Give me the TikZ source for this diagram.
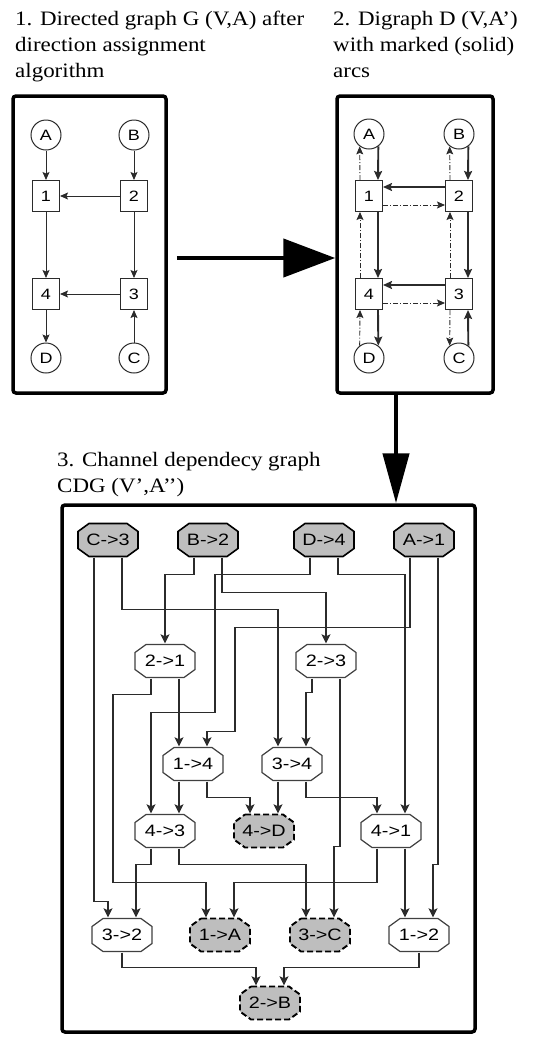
\documentclass[tikz,border=0pt]{standalone}
\usepackage{fontspec}
\setmainfont[FakeStretch=1.12]{Liberation Serif}
\newfontfamily\labelfont[FakeStretch=1.2]{Liberation Sans}
\usetikzlibrary{arrows.meta,positioning,calc}

\definecolor{inkgray}{HTML}{2B2B2B}
\definecolor{chanfill}{HTML}{BEBEBE}

\begin{document}
\begin{tikzpicture}[x=1pt, y=-1pt,
            panel/.style={rectangle, draw=black, line width=3.5pt, rounded corners=3pt, inner sep=0},
            heading/.style={anchor=north west, align=left, inner sep=0, font=\fontsize{20.5}{26}\selectfont},
            vert/.style={circle, draw=inkgray, line width=1pt, minimum size=30pt, inner sep=0, font=\labelfont\fontsize{15}{15}\selectfont},
            router/.style={rectangle, draw=inkgray, line width=1pt, minimum width=27pt, minimum height=31pt, inner sep=0, font=\labelfont\fontsize{15}{15}\selectfont},
            gedge/.style={draw=inkgray, line width=1pt, -{Stealth[length=8pt,width=7pt,inset=1.5pt]}},
            marked/.style={draw=inkgray, line width=1.9pt, -{Stealth[length=9pt,width=8pt,inset=1.5pt]}},
            unmarked/.style={draw=inkgray, line width=0.9pt, dash pattern=on 5pt off 2pt on 1pt off 2pt, -{Stealth[length=8pt,width=7pt,inset=1.5pt]}},
            bigarrow/.style={draw=black, line width=4.5pt, -{Triangle[length=52pt,width=38pt]}},
            chan/.style={rectangle, minimum width=62pt, minimum height=35pt, inner sep=0,
                font=\labelfont\fontsize{16.5}{16.5}\selectfont,
                path picture={\path[#1]
                    ([shift={(12pt,-1pt)}]path picture bounding box.north west) --
                    ([shift={(-12pt,-1pt)}]path picture bounding box.north east) --
                    ([shift={(-1pt,-9pt)}]path picture bounding box.north east) --
                    ([shift={(-1pt,9pt)}]path picture bounding box.south east) --
                    ([shift={(-12pt,1pt)}]path picture bounding box.south east) --
                    ([shift={(12pt,1pt)}]path picture bounding box.south west) --
                    ([shift={(1pt,9pt)}]path picture bounding box.south west) --
                    ([shift={(1pt,-9pt)}]path picture bounding box.north west) -- cycle;}},
            inj/.style={chan={draw=black, fill=chanfill, line width=1.6pt}},
            ej/.style={chan={draw=black, fill=chanfill, line width=1.9pt, dash pattern=on 6pt off 3pt}},
            mid/.style={chan={draw=gray!50!black, fill=white, line width=1.2pt}},
            dep/.style={draw=inkgray, line width=1.2pt, -{Stealth[length=9pt,width=9pt,inset=2pt]}}]

            \useasboundingbox (0,0) rectangle (534,1037);

            % Titles
            \node[heading] (ttl1) at (15,11) {1. Directed graph G (V,A) after\\direction assignment\\algorithm};
            \node[heading] (ttl2) at (333,11) {2. Digraph D (V,A’)\\with marked (solid)\\arcs};
            \node[heading] (ttl3) at (57,452) {3. Channel dependecy graph\\CDG (V’,A’’)};

            % Frames
            \node[panel, minimum width=153pt, minimum height=297pt] (box1) at (89.5,244.5) {};
            \node[panel, minimum width=156pt, minimum height=297pt] (box2) at (415,244.5) {};
            \node[panel, minimum width=413pt, minimum height=527pt] (box3) at (268.5,768.5) {};

            % Graph G
            \node[vert] (gA) at (46,135) {A};
            \node[vert] (gB) at (134,135) {B};
            \node[router] (g1) at (46,196) {1};
            \node[router] (g2) at (134,196) {2};
            \node[router] (g4) at (46,294) {4};
            \node[router] (g3) at (134,294) {3};
            \node[vert] (gD) at (46,358) {D};
            \node[vert] (gC) at (134,358) {C};

            \draw[gedge] (gA) -- (g1);
            \draw[gedge] (gB) -- (g2);
            \draw[gedge] (g2) -- (g1);
            \draw[gedge] (g1) -- (g4);
            \draw[gedge] (g2) -- (g3);
            \draw[gedge] (g3) -- (g4);
            \draw[gedge] (g4) -- (gD);
            \draw[gedge] (gC) -- (g3);

            % Digraph D
            \node[vert] (hA) at (369,134) {A};
            \node[vert] (hB) at (459,134) {B};
            \node[router] (h1) at (369,196) {1};
            \node[router] (h2) at (459,196) {2};
            \node[router] (h4) at (369,294) {4};
            \node[router] (h3) at (459,294) {3};
            \node[vert] (hD) at (369,358) {D};
            \node[vert] (hC) at (459,358) {C};

            \draw[marked] (hA.-53) -- ([xshift=9pt]h1.north);
            \draw[unmarked] ([xshift=-9pt]h1.north) -- (hA.233);
            \draw[marked] (hB.-53) -- ([xshift=9pt]h2.north);
            \draw[unmarked] ([xshift=-9pt]h2.north) -- (hB.233);
            \draw[marked] ([yshift=9pt]h2.west) -- ([yshift=9pt]h1.east);
            \draw[unmarked] ([yshift=-9pt]h1.east) -- ([yshift=-9pt]h2.west);
            \draw[marked] ([xshift=9pt]h1.south) -- ([xshift=9pt]h4.north);
            \draw[unmarked] ([xshift=-9pt]h4.north) -- ([xshift=-9pt]h1.south);
            \draw[marked] ([xshift=9pt]h2.south) -- ([xshift=9pt]h3.north);
            \draw[unmarked] ([xshift=-9pt]h3.north) -- ([xshift=-9pt]h2.south);
            \draw[marked] ([yshift=9pt]h3.west) -- ([yshift=9pt]h4.east);
            \draw[unmarked] ([yshift=-9pt]h4.east) -- ([yshift=-9pt]h3.west);
            \draw[marked] ([xshift=9pt]h4.south) -- (hD.53);
            \draw[unmarked] (hD.127) -- ([xshift=-9pt]h4.south);
            \draw[marked] (hC.53) -- ([xshift=9pt]h3.south);
            \draw[unmarked] ([xshift=-9pt]h3.south) -- (hC.127);

            % Steps
            \coordinate (drop) at ([xshift=-19pt]box2.south);
            \draw[bigarrow] ([shift={(9,13.5)}]box1.east) -- ([shift={(0,13.5)}]box2.west);
            \draw[bigarrow, -{Triangle[length=50pt,width=26pt]}] (drop) -- (drop |- box3.north);

            % Channels
            \node[inj] (c3) at (108,540) {C->3};
            \node[inj] (b2) at (208,540) {B->2};
            \node[inj] (d4) at (324,540) {D->4};
            \node[inj] (a1) at (424,540) {A->1};
            \node[mid] (t21) at (165,661) {2->1};
            \node[mid] (t23) at (326,661) {2->3};
            \node[mid] (t14) at (193,764) {1->4};
            \node[mid] (t34) at (292,764) {3->4};
            \node[mid] (t43) at (165,831) {4->3};
            \node[ej] (t4d) at (264,831) {4->D};
            \node[mid] (t41) at (391,831) {4->1};
            \node[mid] (t32) at (122,935) {3->2};
            \node[ej] (t1a) at (220,935) {1->A};
            \node[ej] (t3c) at (320,935) {3->C};
            \node[mid] (t12) at (419,935) {1->2};
            \node[ej] (t2b) at (270,1003) {2->B};

            % Dependencies
            \draw[dep] ([xshift=-14pt]c3.south) -- ++(0,344) -| ([xshift=-14pt]t32.north);
            \draw[dep] ([xshift=14pt]c3.south) -- ++(0,52) -| ([xshift=-14pt]t34.north);
            \draw[dep] ([xshift=-14pt]b2.south) -- ++(0,17) -| (t21.north);
            \draw[dep] ([xshift=14pt]b2.south) -- ++(0,35) -| (t23.north);
            \draw[dep] ([xshift=-14pt]d4.south) -- ++(0,17) -- ++(-95,0) -- ++(0,138) -| ([xshift=-14pt]t43.north);
            \draw[dep] ([xshift=14pt]d4.south) -- ++(0,17) -| ([xshift=14pt]t41.north);
            \draw[dep] ([xshift=-14pt]a1.south) -- ++(0,70) -- ++(-175,0) -- ++(0,104) -| ([xshift=14pt]t14.north);
            \draw[dep] ([xshift=14pt]a1.south) -- ++(0,307) -| ([xshift=14pt]t12.north);
            \draw[dep] ([xshift=-14pt]t21.south) -- ++(0,16) -- ++(-38,0) -- ++(0,188) -| ([xshift=-14pt]t1a.north);
            \draw[dep] ([xshift=14pt]t21.south) -- ([xshift=-14pt]t14.north);
            \draw[dep] ([xshift=-14pt]t23.south) -- ++(0,14) -| ([xshift=14pt]t34.north);
            \draw[dep] ([xshift=14pt]t23.south) -- ++(0,168) -| ([xshift=14pt]t3c.north);
            \draw[dep] ([xshift=-14pt]t14.south) -- ([xshift=14pt]t43.north);
            \draw[dep] ([xshift=14pt]t14.south) -- ++(0,16) -| ([xshift=-14pt]t4d.north);
            \draw[dep] ([xshift=-14pt]t34.south) -- ([xshift=14pt]t4d.north);
            \draw[dep] ([xshift=14pt]t34.south) -- ++(0,16) -| ([xshift=-14pt]t41.north);
            \draw[dep] ([xshift=-14pt]t43.south) -- ++(0,16) -| ([xshift=14pt]t32.north);
            \draw[dep] ([xshift=14pt]t43.south) -- ++(0,16) -| ([xshift=-14pt]t3c.north);
            \draw[dep] ([xshift=-14pt]t41.south) -- ++(0,34) -| ([xshift=14pt]t1a.north);
            \draw[dep] ([xshift=14pt]t41.south) -- ([xshift=-14pt]t12.north);
            \draw[dep] (t32.south) -- ++(0,15) -| ([xshift=-14pt]t2b.north);
            \draw[dep] (t12.south) -- ++(0,15) -| ([xshift=14pt]t2b.north);
\end{tikzpicture}
\end{document}
